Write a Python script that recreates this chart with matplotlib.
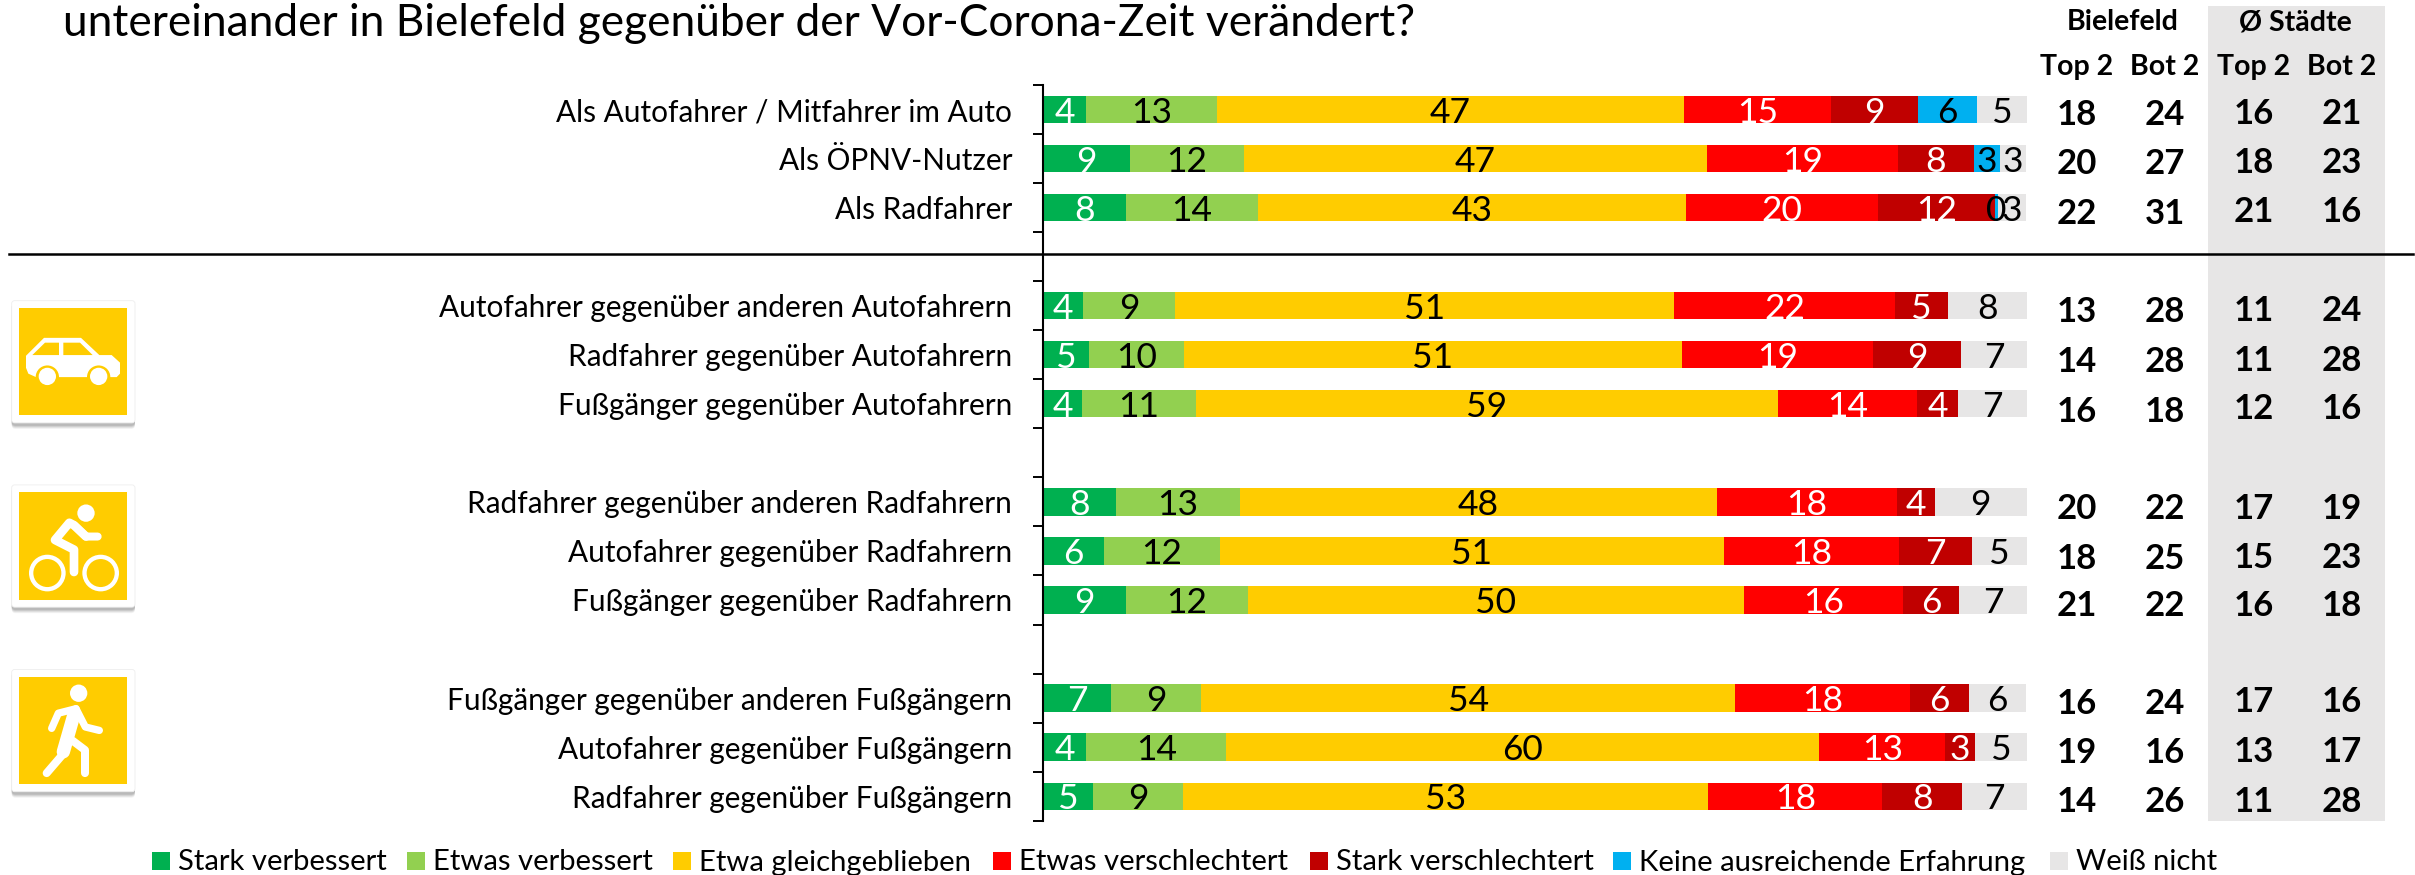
import matplotlib
matplotlib.use("Agg")
import matplotlib.pyplot as plt
from matplotlib.patches import Rectangle, Circle, Polygon, FancyBboxPatch
import numpy as np

plt.rcParams['font.family'] = ['Lato', 'DejaVu Sans']

# Datos
TITULO = "untereinander in Bielefeld gegenüber der Vor-Corona-Zeit verändert?"
CATEGORIAS = ["Als Autofahrer / Mitfahrer im Auto", "Als ÖPNV-Nutzer", "Als Radfahrer", "",
              "Autofahrer gegenüber anderen Autofahrern", "Radfahrer gegenüber Autofahrern",
              "Fußgänger gegenüber Autofahrern", "",
              "Radfahrer gegenüber anderen Radfahrern", "Autofahrer gegenüber Radfahrern",
              "Fußgänger gegenüber Radfahrern", "",
              "Fußgänger gegenüber anderen Fußgängern", "Autofahrer gegenüber Fußgängern",
              "Radfahrer gegenüber Fußgängern"]
FILAS = [0, 1, 2, 4, 5, 6, 8, 9, 10, 12, 13, 14]
SERIES = ["Stark verbessert", "Etwas verbessert", "Etwa gleichgeblieben", "Etwas verschlechtert",
          "Stark verschlechtert", "Keine ausreichende Erfahrung", "Weiß nicht"]
COLORES = ["#00B050", "#92D050", "#FFCC00", "#FF0000", "#C00000", "#00B0F0", "#E7E6E6"]
COLOR_TEXTO = ["white", "black", "black", "white", "white", "black", "black"]

# anchos (%)
stark_verb = [4.4, 8.8, 8.4, 4.1, 4.7, 4.0, 7.4, 6.2, 8.4, 6.9, 4.4, 5.1]
etwas_verb = [13.3, 11.6, 13.5, 9.3, 9.6, 11.5, 12.6, 11.8, 12.4, 9.2, 14.2, 9.1]
gleich = [47.4, 47.1, 43.4, 50.7, 50.6, 59.2, 48.5, 51.2, 50.4, 54.2, 60.3, 53.4]
etwas_schl = [15.0, 19.4, 19.6, 22.5, 19.5, 14.1, 18.3, 17.8, 16.2, 17.8, 12.8, 17.7]
stark_schl = [8.8, 7.7, 11.8, 5.4, 8.9, 4.2, 3.8, 7.4, 5.7, 6.0, 3.0, 8.1]
keine = [6.0, 2.7, 0.4, 0, 0, 0, 0, 0, 0, 0, 0, 0]
weiss = [5.1, 2.6, 2.8, 8.1, 6.7, 7.0, 9.4, 5.6, 6.9, 5.8, 5.3, 6.6]
VALORES = [stark_verb, etwas_verb, gleich, etwas_schl, stark_schl, keine, weiss]

# etiquetas tal como aparecen
ETIQUETAS = [["4", "9", "8", "4", "5", "4", "8", "6", "9", "7", "4", "5"],
             ["13", "12", "14", "9", "10", "11", "13", "12", "12", "9", "14", "9"],
             ["47", "47", "43", "51", "51", "59", "48", "51", "50", "54", "60", "53"],
             ["15", "19", "20", "22", "19", "14", "18", "18", "16", "18", "13", "18"],
             ["9", "8", "12", "5", "9", "4", "4", "7", "6", "6", "3", "8"],
             ["6", "3", "0", "", "", "", "", "", "", "", "", ""],
             ["5", "3", "3", "8", "7", "7", "9", "5", "7", "6", "5", "7"]]

top2_biel = [18, 20, 22, 13, 14, 16, 20, 18, 21, 16, 19, 14]
bot2_biel = [24, 27, 31, 28, 28, 18, 22, 25, 22, 24, 16, 26]
top2_st = [16, 18, 21, 11, 11, 12, 17, 15, 16, 17, 13, 11]
bot2_st = [21, 23, 16, 24, 28, 16, 19, 23, 18, 16, 17, 28]

# posiciones en pixeles
Y_BIEL = [112, 161, 211, 308.6, 358.6, 408.6, 506.4, 555.7, 602.9, 700.7, 750.4, 799.3]
Y_ST = [111, 160, 209, 307.9, 357.9, 406.4, 505.7, 555, 602.9, 699.3, 749.3, 798.6]
X_LEY = [152, 407, 673, 993, 1310, 1613, 2050]

W, H = 2415, 875
fig = plt.figure(figsize=(W / 100, H / 100), dpi=100, facecolor="white")

# capa de fondo en pixeles
bg = fig.add_axes([0, 0, 1, 1], zorder=0)
bg.set_xlim(0, W)
bg.set_ylim(H, 0)
bg.axis("off")

bg.add_patch(Rectangle((2208, 6), 177, 815, color="#E7E6E6", lw=0))
bg.plot([9, 2413], [254, 254], color="black", lw=1.8)
bg.text(63, 36, TITULO, fontsize=31.9, ha="left", va="baseline")

# grafica de barras
ax = fig.add_axes([1043 / W, 1 - 820.7 / H, 984 / W, 735.7 / H], zorder=1)
ax.patch.set_alpha(0)
izq = np.zeros(len(FILAS))
for i in range(len(SERIES)):
    barras = ax.barh(FILAS, VALORES[i], left=izq, height=0.557, color=COLORES[i], label=SERIES[i])
    textos = ax.bar_label(barras, labels=ETIQUETAS[i], label_type="center", color=COLOR_TEXTO[i],
                          fontsize=25.5)
    for t in textos:
        t.set_va("center_baseline")
    izq = izq + np.array(VALORES[i])
ax.set_xlim(0, 100)
ax.set_ylim(14.5, -0.5)
ax.set_yticks(np.arange(15))
ax.set_yticklabels(CATEGORIAS, fontsize=21.4)
ax.set_yticks(np.arange(16) - 0.5, minor=True)
ax.tick_params(axis="y", which="major", length=0, pad=22.2)
ax.tick_params(axis="y", which="minor", length=7.5, width=1.4)
ax.set_xticks([])
for lado in ["top", "right", "bottom"]:
    ax.spines[lado].set_visible(False)
ax.spines["left"].set_linewidth(1.5)

# tabla de la derecha
bg.text(2123, 22, "Bielefeld", fontsize=20.5, weight="bold", ha="center", va="center")
bg.text(2295, 22, "Ø Städte", fontsize=20.5, weight="bold", ha="center", va="center")
for x, t in zip([2077, 2165, 2254, 2341.5], ["Top 2", "Bot 2", "Top 2", "Bot 2"]):
    bg.text(x, 67, t, fontsize=20.5, weight="bold", ha="center", va="center")
for x, col, ys in zip([2077, 2165, 2254, 2341.5], [top2_biel, bot2_biel, top2_st, bot2_st],
                      [Y_BIEL, Y_BIEL, Y_ST, Y_ST]):
    for y, v in zip(ys, col):
        bg.text(x, y, str(v), fontsize=25, weight="bold", ha="center", va="center_baseline")

# leyenda
for x, s, c in zip(X_LEY, SERIES, COLORES):
    bg.add_patch(Rectangle((x, 852), 18, 18, color=c, lw=0))
    bg.text(x + 26, 860, s, fontsize=21.1, ha="left", va="center_baseline")


# iconos (coordenadas del recorte)
def p(x, y):
    return (x / 3, 280 + y / 2.904)


def marco(y0):
    x1, y1 = p(35, y0)
    x2, y2 = p(405, y0 + 355)
    for k, a in zip([5, 4, 3, 2], [0.10, 0.15, 0.2, 0.25]):
        bg.add_patch(FancyBboxPatch((x1, y1 + 3), x2 - x1, y2 - y1 + k - 2,
                                    boxstyle="round,pad=0,rounding_size=4",
                                    fc="#808080", ec="none", alpha=a))
    bg.add_patch(FancyBboxPatch((x1, y1), x2 - x1, y2 - y1, boxstyle="round,pad=0,rounding_size=3",
                                fc="white", ec="#EEEEEE", lw=0.6))
    xa, ya = p(58, y0 + 21)
    xb, yb = p(382, y0 + 333)
    bg.add_patch(Rectangle((xa, ya), xb - xa, yb - ya, color="#FFCC00", lw=0))


def trazo(puntos, grosor):
    xy = [p(*q) for q in puntos]
    bg.plot([q[0] for q in xy], [q[1] for q in xy], color="white", lw=grosor / 3 * 0.72,
            solid_capstyle="round", solid_joinstyle="round")


def disco(x, y, r, c="white"):
    bg.add_patch(Circle(p(x, y), r / 3, color=c, lw=0))


# coche
marco(60)
bg.add_patch(Polygon([p(*q) for q in [(78, 220), (132, 168), (243, 168), (298, 218), (335, 218),
                                      (360, 240), (360, 272), (350, 282), (108, 282), (85, 272),
                                      (78, 255)]], color="white", lw=0))
bg.add_patch(Polygon([p(*q) for q in [(97, 218), (135, 182), (177, 182), (177, 218)]], color="#FFCC00", lw=0))
bg.add_patch(Polygon([p(*q) for q in [(190, 182), (240, 182), (278, 218), (190, 218)]], color="#FFCC00", lw=0))
for cx in [142, 296]:
    disco(cx, 282, 35, "#FFCC00")
    disco(cx, 280, 26)
# bici
marco(595)
disco(258, 677, 26)
for cx in [142, 302]:
    disco(cx, 851, 55)
    disco(cx, 851, 42, "#FFCC00")
trazo([(258, 745), (222, 712), (208, 705), (165, 755), (222, 783), (222, 848)], 26)
trazo([(222, 712), (258, 745), (293, 745)], 24)
# peaton
marco(1131)
disco(236, 1200, 26)
trazo([(155, 1302), (175, 1258), (228, 1245)], 22)
trazo([(228, 1245), (256, 1298), (298, 1308)], 22)
trazo([(222, 1262), (190, 1370)], 40)
trazo([(188, 1378), (140, 1432)], 24)
trazo([(218, 1338), (255, 1365), (255, 1432)], 24)

fig.savefig("out.png", dpi=100)
